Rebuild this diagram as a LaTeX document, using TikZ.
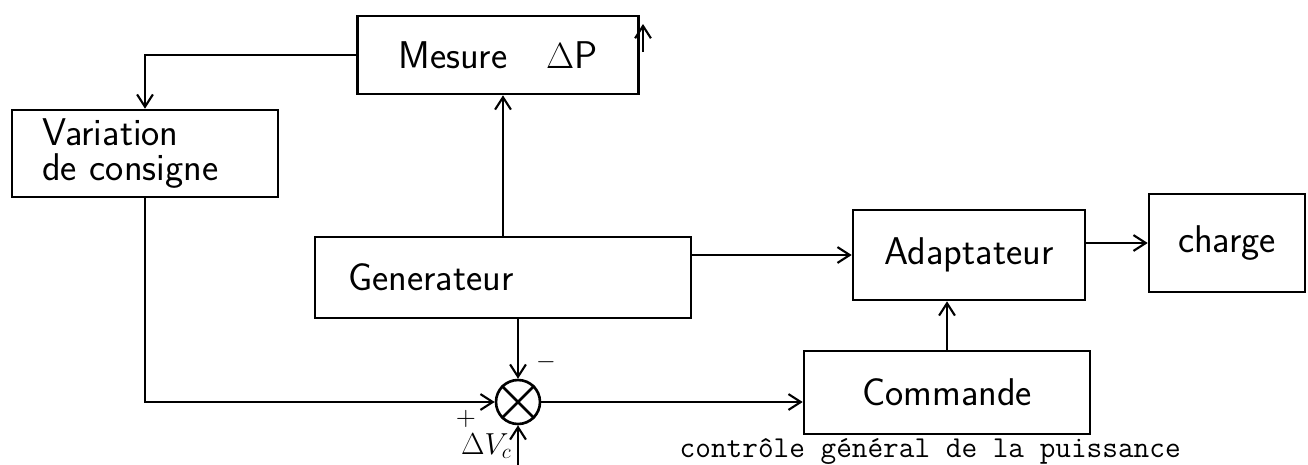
\documentclass[tikz,border=0pt]{standalone}
\usepackage{fontspec}
\usetikzlibrary{arrows.meta}
\begin{document}
\begin{tikzpicture}[x=0.02cm, y=-0.02cm, >={Straight Barb[length=7pt, width=9pt]},
  blk/.style={draw, line width=1.5pt, inner sep=0pt, font=\sffamily\fontsize{22}{20}\selectfont},
  lnk/.style={->, line width=1.2pt},
  sgn/.style={inner sep=0pt, font=\sffamily\fontsize{15}{17}\selectfont}]
\useasboundingbox (0,0) rectangle (1308,464);
\node (mes) [blk, minimum width=5.62cm, minimum height=1.56cm] at (498,55) {Mesure\quad$\Delta$P};
\node (var) [blk, minimum width=5.32cm, minimum height=1.74cm, inner xsep=0.6cm, text width=4.12cm, align=left] at (145,153.5) {Variation\\de consigne};
\node (gen) [blk, minimum width=7.52cm, minimum height=1.62cm, inner xsep=0.66cm, text width=6.2cm, align=left] at (503,277.5) {Generateur};
\node (ada) [blk, minimum width=4.64cm, minimum height=1.8cm] at (969,255) {Adaptateur};
\node (cha) [blk, minimum width=3.12cm, minimum height=1.96cm] at (1227,243) {charge};
\node (com) [blk, minimum width=5.72cm, minimum height=1.66cm] at (947,392.5) {Commande};
\node (sum) [draw, circle, line width=1.5pt, minimum size=0.88cm, inner sep=0pt] at (518,402) {};
\node (moins) [sgn] at (546,362) {$-$};
\node (plus) [sgn] at (466,419) {+};
\node (dv) [sgn, anchor=east, font=\sffamily\fontsize{17}{19}\selectfont] at (512,446) {$\Delta V_c$};
\node (cap) [anchor=base east, inner sep=0pt, font=\ttfamily\fontsize{17.3}{20}\selectfont] at (1181,457) {contrôle général de la puissance};
\coordinate (dvin) at (518,480);
\coordinate (mesup) at (643,52);

\draw[line width=1.5pt] (sum.north west) -- (sum.south east) (sum.north east) -- (sum.south west);
\draw[lnk] (mes.west) -| (var.north);
\draw[lnk] (gen) -- (gen |- mes.south);
\draw[lnk] (var.south) |- (sum.west);
\draw[lnk] (gen.south -| sum) -- (sum.north);
\draw[lnk] (dvin) -- (sum.south);
\draw[lnk] (sum.east) -- (sum.east -| com.west);
\draw[lnk] (gen.east |- ada) -- (ada.west);
\draw[lnk] (ada.east |- cha) -- (cha.west);
\draw[lnk] (com) -- (com |- ada.south);
\draw[lnk] (mesup) -- ++(0,-28);
\end{tikzpicture}
\end{document}
